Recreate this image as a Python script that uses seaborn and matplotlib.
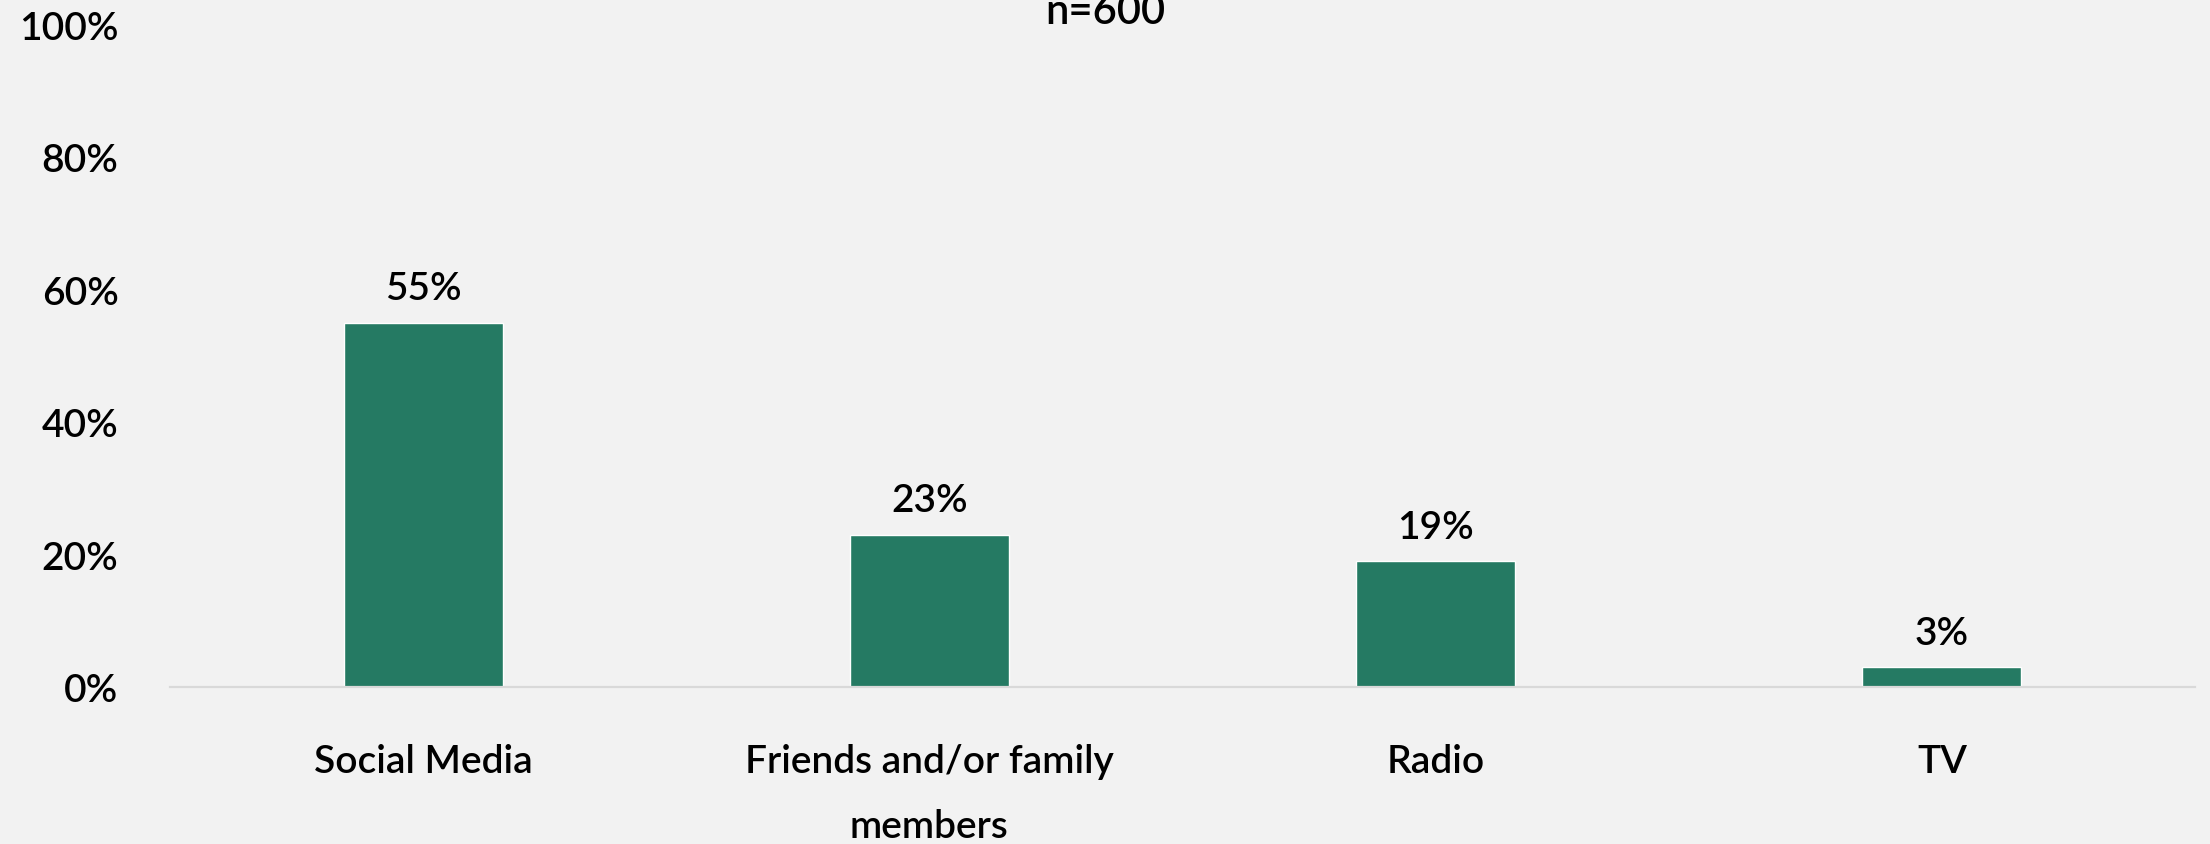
import matplotlib
matplotlib.use("Agg")
import matplotlib.pyplot as plt
import seaborn as sns
import pandas as pd
from matplotlib.ticker import FuncFormatter

categories = ["Social Media", "Friends and/or family\nmembers", "Radio", "TV"]
values = [0.55, 0.23, 0.19, 0.03]
value_labels = ["55%", "23%", "19%", "3%"]
y_ticks = [0, 0.2, 0.4, 0.6, 0.8, 1.0]
title = "n=600"

BG = "#F2F2F2"
BAR = "#257A63"
FS = 28
FW = 600

sns.set_theme(style="white")
plt.rcParams["font.family"] = ["Lato", "DejaVu Sans"]
plt.rcParams["font.weight"] = FW

df = pd.DataFrame({"category": categories, "value": values})

fig = plt.figure(figsize=(22.1, 8.45), dpi=100, facecolor=BG)
ax = fig.add_axes([170 / 2210, 1 - 688 / 845, (2195 - 170) / 2210, (688 - 25.5) / 845])
ax.set_facecolor(BG)

sns.barplot(data=df, x="category", y="value", color=BAR, width=0.314,
            saturation=1, ax=ax)

ax.set_xlim(-0.5, 3.5)
ax.set_ylim(0, 1.0)
ax.set_yticks(y_ticks)
ax.yaxis.set_major_formatter(FuncFormatter(lambda v, p: f"{v*100:.0f}%"))
ax.set_xlabel("")
ax.set_ylabel("")

for s in ["top", "right", "left"]:
    ax.spines[s].set_visible(False)
ax.spines["bottom"].set_color("#D9D9D9")
ax.spines["bottom"].set_linewidth(1.6)
ax.grid(False)

ax.tick_params(axis="y", length=0, pad=37, labelsize=FS, labelcolor="black")
ax.tick_params(axis="x", length=0, pad=40, labelsize=FS, labelcolor="black")
for lbl in ax.get_xticklabels() + ax.get_yticklabels():
    lbl.set_fontweight(FW)
for lbl in ax.get_xticklabels():
    lbl.set_linespacing(2.0)

for i, (v, t) in enumerate(zip(values, value_labels)):
    ax.annotate(t, xy=(i, v), xytext=(0, 17), textcoords="offset points",
                ha="center", va="baseline", fontsize=FS, fontweight=FW,
                color="black")

fig.text(1105 / 2210, 1 - 24 / 845, title, ha="center", va="baseline",
         fontsize=FS + 2, fontweight=FW, color="black")

fig.savefig("out.png", dpi=100, facecolor=BG)
